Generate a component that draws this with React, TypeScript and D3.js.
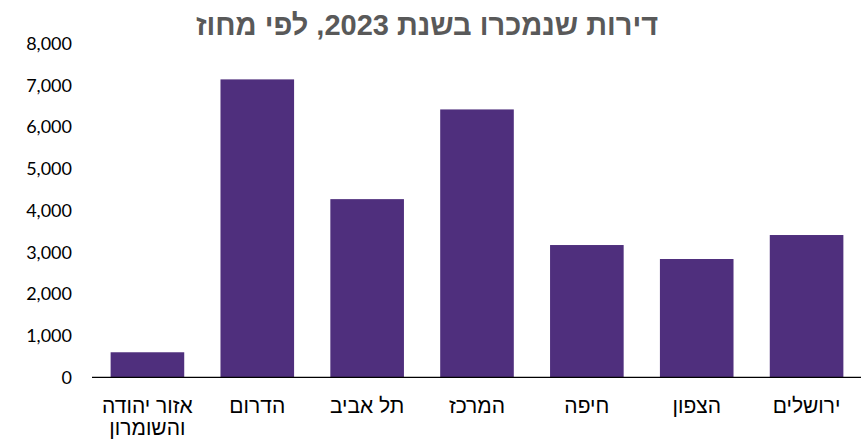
import React from "react";
import * as d3 from "d3";

const categories = ["אזור יהודה והשומרון", "הדרום", "תל אביב", "המרכז", "חיפה", "הצפון", "ירושלים"];
const labelLines = [["אזור יהודה", "והשומרון"], ["הדרום"], ["תל אביב"], ["המרכז"], ["חיפה"], ["הצפון"], ["ירושלים"]];
const values = [600, 7140, 4270, 6420, 3170, 2835, 3410];
const yTicks = [0, 1000, 2000, 3000, 4000, 5000, 6000, 7000, 8000];
const title = "דירות שנמכרו בשנת 2023, לפי מחוז";

export default function App() {
  const W = 861, H = 440;
  const x = d3.scaleBand<string>().domain(categories).range([92.5, 861.5]).paddingInner(0.33).paddingOuter(0.165);
  const y = d3.scaleLinear().domain([0, 8000]).range([377.3, 43.5]);
  const fmt = d3.format(",");
  return (
    <svg width={W} height={H} style={{ position: "absolute", left: 0, top: 0, background: "#fff" }}>
      <text x={427} y={35} textAnchor="middle" fontFamily="'Liberation Sans', Arial, sans-serif" fontWeight="bold" fontSize={29} fill="#595959">{title}</text>
      {yTicks.map((t) => (
        <text key={t} x={72} y={y(t) + 6.5} textAnchor="end" fontFamily="Lato, 'Open Sans', sans-serif" fontSize={18} fill="#000">{fmt(t)}</text>
      ))}
      {categories.map((c, i) => (
        <rect key={c} x={x(c)!} y={y(values[i])} width={x.bandwidth()} height={y(0) - y(values[i])} fill="#4f2f7d" />
      ))}
      <line x1={92} x2={861} y1={y(0)} y2={y(0)} stroke="#000" strokeWidth={1.2} />
      {categories.map((c, i) => (
        <text key={c} x={x(c)! + x.bandwidth() / 2} y={413} textAnchor="middle" fontFamily="'Liberation Sans', Arial, sans-serif" fontSize={21} fill="#000">
          {labelLines[i].map((l, j) => (
            <tspan key={j} x={x(c)! + x.bandwidth() / 2} dy={j === 0 ? 0 : 22}>{l}</tspan>
          ))}
        </text>
      ))}
    </svg>
  );
}
